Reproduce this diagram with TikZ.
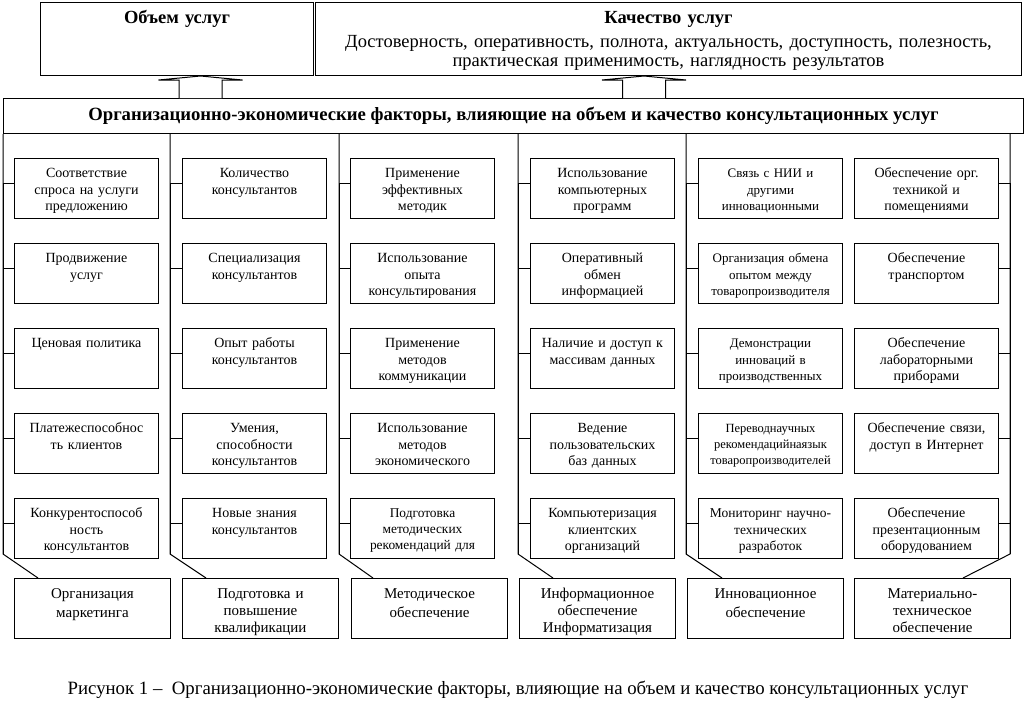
\documentclass[tikz,border=0pt]{standalone}
\usepackage{fontspec}
\setmainfont{Liberation Serif}
\usetikzlibrary{positioning}

\begin{document}
\begin{tikzpicture}[
  x=1pt, y=-1pt,
  line width=1pt,
  node distance=24pt,
  head/.style={draw, align=center, inner xsep=4pt, inner ysep=4pt,
               text height=17pt, text depth=48pt},
  fbox/.style={draw, align=center, text width=138pt, inner xsep=3pt,
               inner ysep=7pt, text height=12pt, text depth=34pt,
               font=\fontsize{14}{16.5}\selectfont},
  sbox/.style={fbox, font=\fontsize{13}{16.5}\selectfont},
  gbox/.style={draw, align=center, text width=148pt, inner xsep=4pt,
               inner ysep=5pt, text height=15pt, text depth=35pt,
               font=\fontsize{15}{17}\selectfont},
  blk/.style={draw, fill=white}
]
\useasboundingbox (0,0) rectangle (1026,713);

% ---------------- results ----------------
\node[head, anchor=north west, text width=265pt,
      font=\bfseries\fontsize{18.5}{19}\selectfont] (vol) at (40,2) {Объем услуг};
\node[head, anchor=north west, text width=698pt,
      font=\fontsize{18.5}{19}\selectfont] (quality) at (315,2)
  {\textbf{Качество услуг}\\[5pt]
   Достоверность, оперативность, полнота, актуальность, доступность, полезность,\\
   практическая применимость, наглядность результатов};

\node[draw, anchor=north west, minimum width=1020pt, minimum height=35pt,
      inner sep=0pt, font=\bfseries\fontsize{18.7}{20}\selectfont] (banner) at (3,98)
  {Организационно-экономические факторы, влияющие на объем и качество консультационных услуг};

\coordinate (ar1) at (200.5,98);
\coordinate (ar2) at (644,98);

% ---------------- marketing ----------------
\node[fbox, anchor=north west] (mkt1) at (14,158) {Соответствие\\спроса на услуги\\предложению};
\node[fbox, below=of mkt1] (mkt2) {Продвижение\\услуг};
\node[fbox, below=of mkt2] (mkt3) {Ценовая политика};
\node[fbox, below=of mkt3] (mkt4) {Платежеспособнос\\ть клиентов};
\node[fbox, below=of mkt4] (mkt5) {Конкурентоспособ\\ность\\консультантов};

% ---------------- qualification ----------------
\node[fbox, anchor=north west] (kv1) at (182,158) {Количество\\консультантов};
\node[fbox, below=of kv1] (kv2) {Специализация\\консультантов};
\node[fbox, below=of kv2] (kv3) {Опыт работы\\консультантов};
\node[fbox, below=of kv3] (kv4) {Умения,\\способности\\консультантов};
\node[fbox, below=of kv4] (kv5) {Новые знания\\консультантов};

% ---------------- methods ----------------
\node[fbox, anchor=north west] (met1) at (350,158) {Применение\\эффективных\\методик};
\node[fbox, below=of met1] (met2) {Использование\\опыта\\консультирования};
\node[fbox, below=of met2] (met3) {Применение\\методов\\коммуникации};
\node[fbox, below=of met3] (met4) {Использование\\методов\\экономического};
\node[sbox, below=of met4, font=\fontsize{13.4}{16}\selectfont] (met5)
  {Подготовка\\методических\\рекомендаций для};

% ---------------- information ----------------
\node[fbox, anchor=north west] (inf1) at (530,158) {Использование\\компьютерных\\программ};
\node[fbox, below=of inf1] (inf2) {Оперативный\\обмен\\информацией};
\node[fbox, below=of inf2] (inf3) {Наличие и доступ к\\массивам данных};
\node[fbox, below=of inf3] (inf4) {Ведение\\пользовательских\\баз данных};
\node[fbox, below=of inf4] (inf5) {Компьютеризация\\клиентских\\организаций};

% ---------------- innovation ----------------
\node[sbox, anchor=north west] (inn1) at (698,158) {Связь с НИИ и\\другими\\инновационными};
\node[sbox, below=of inn1] (inn2) {Организация обмена\\опытом между\\товаропроизводителя};
\node[sbox, below=of inn2] (inn3) {Демонстрации\\инноваций в\\производственных};
\node[sbox, below=of inn3, font=\fontsize{12.5}{16}\selectfont] (inn4)
  {Переводнаучных\\рекомендацийнаязык\\товаропроизводителей};
\node[sbox, below=of inn4, font=\fontsize{13.5}{16.5}\selectfont] (inn5)
  {Мониторинг научно-\\технических\\разработок};

% ---------------- equipment ----------------
\node[fbox, anchor=north west] (mat1) at (854,158) {Обеспечение орг.\\техникой и\\помещениями};
\node[fbox, below=of mat1] (mat2) {Обеспечение\\транспортом};
\node[fbox, below=of mat2] (mat3) {Обеспечение\\лабораторными\\приборами};
\node[fbox, below=of mat3] (mat4) {Обеспечение связи,\\доступ в Интернет};
\node[fbox, below=of mat4] (mat5) {Обеспечение\\презентационным\\оборудованием};

% ---------------- groups ----------------
\node[gbox, anchor=north west] (mkt) at (14,578) {Организация\\[2pt]маркетинга};
\node[gbox, anchor=north west] (kv)  at (182,578) {Подготовка  и\\повышение\\квалификации};
\node[gbox, anchor=north west] (met) at (351,578) {Методическое\\[2pt]обеспечение};
\node[gbox, anchor=north west] (inf) at (519,578) {Информационное\\обеспечение\\Информатизация};
\node[gbox, anchor=north west] (inn) at (687,578) {Инновационное\\[2pt]обеспечение};
\node[gbox, anchor=north west] (mat) at (854,578) {Материально-\\техническое\\обеспечение};

\coordinate (tr1) at (3,554);
\coordinate (tr2) at (170,554);
\coordinate (tr3) at (339,554);
\coordinate (tr4) at (518,554);
\coordinate (tr5) at (686,554);
\coordinate (tr6) at (1010,554);

% ---------------- lines ----------------
\foreach \t/\b/\s in {tr1/mkt/24, tr2/kv/24, tr3/met/22, tr4/inf/34, tr5/inn/35, tr6/mat/109}
  \draw (banner.south -| \t) -- (\t) -- ([xshift=\s pt]\b.north west);
\foreach \c/\t in {mkt/tr1, kv/tr2, met/tr3, inf/tr4, inn/tr5}
  \foreach \r in {1,...,5}
    \draw ([yshift=5.5pt]\c\r.west) -| (\t);
\foreach \r in {1,...,5}
  \draw ([yshift=5.5pt]mat\r.east) -| (tr6);

\foreach \a/\b in {ar1/vol, ar2/quality}
  \draw[blk] ([xshift=-21.5pt]\a) -- ([xshift=-21.5pt,yshift=18pt]\a)
    -- ([xshift=-42pt,yshift=18pt]\a) -- (\a |- \b.south)
    -- ([xshift=42pt,yshift=18pt]\a) -- ([xshift=21.5pt,yshift=18pt]\a)
    -- ([xshift=21.5pt]\a);

\node[font=\fontsize{18.8}{20}\selectfont] (cap) at (518,690)
  {Рисунок 1 –\ \ Организационно-экономические факторы, влияющие на объем и качество консультационных услуг};
\end{tikzpicture}
\end{document}
